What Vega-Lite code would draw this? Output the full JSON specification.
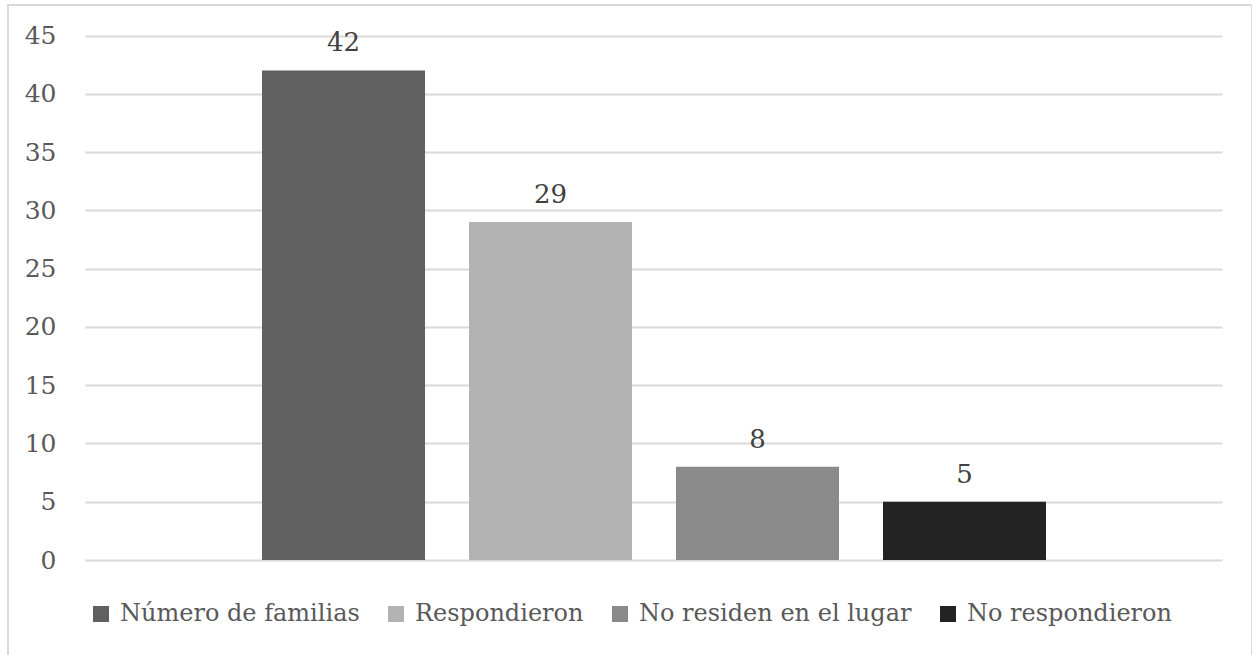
{
  "$schema": "https://vega.github.io/schema/vega-lite/v6.json",
  "width": 1244,
  "height": 660,
  "autosize": {"type": "none"},
  "padding": {"left": 8, "top": 5, "right": 0, "bottom": 0},
  "background": "white",
  "config": {
    "view": {"stroke": "#d9d9d9", "strokeWidth": 2},
    "font": "DejaVu Serif"
  },
  "data": {
    "values": [
      {"serie": "Número de familias", "valor": 42},
      {"serie": "Respondieron", "valor": 29},
      {"serie": "No residen en el lugar", "valor": 8},
      {"serie": "No respondieron", "valor": 5}
    ]
  },
  "encoding": {
    "x": {
      "field": "serie",
      "type": "nominal",
      "sort": null,
      "scale": {"paddingInner": 0.2126, "paddingOuter": 1, "align": 0.5, "range": [47, 1245]},
      "axis": null
    },
    "y": {
      "field": "valor",
      "type": "quantitative",
      "scale": {"domain": [0, 45], "range": [555, 30.5], "nice": false, "zero": true},
      "axis": {
        "title": null,
        "offset": -77,
        "domain": false,
        "grid": false,
        "ticks": true,
        "tickSize": -1137,
        "tickColor": "#d9d9d9",
        "tickWidth": 2,
        "values": [0, 5, 10, 15, 20, 25, 30, 35, 40, 45],
        "labelFontSize": 25,
        "labelColor": "#595959",
        "labelPadding": 1166
      }
    }
  },
  "layer": [
    {
      "mark": {"type": "bar"},
      "encoding": {
        "color": {
          "field": "serie",
          "type": "nominal",
          "sort": null,
          "scale": {
            "domain": ["Número de familias", "Respondieron", "No residen en el lugar", "No respondieron"],
            "range": ["#606060", "#b3b3b3", "#8a8a8a", "#232323"]
          },
          "legend": {
            "title": null,
            "orient": "none",
            "legendX": 81,
            "legendY": 597,
            "direction": "horizontal",
            "columns": 4,
            "padding": 0,
            "symbolType": "square",
            "symbolSize": 256,
            "symbolStrokeWidth": 0,
            "labelFontSize": 24,
            "labelColor": "#595959",
            "labelOffset": 7,
            "columnPadding": 24,
            "labelLimit": 500
          }
        }
      }
    },
    {
      "mark": {"type": "text", "baseline": "alphabetic", "dy": -19, "fontSize": 26, "color": "#404040"},
      "encoding": {
        "text": {"field": "valor", "type": "quantitative"}
      }
    }
  ]
}
